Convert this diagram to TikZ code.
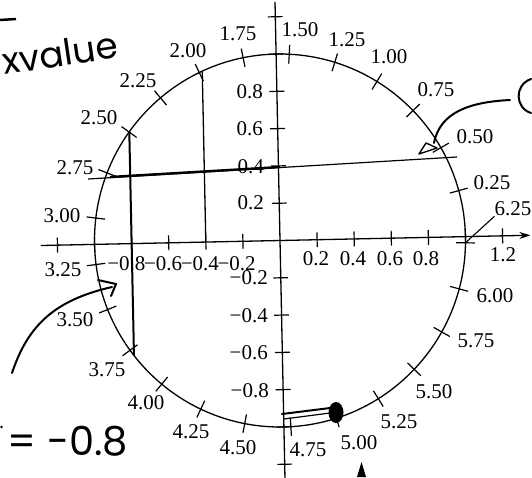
\documentclass[tikz,border=0pt]{standalone}
\usepackage{fontspec}
\setmainfont{Liberation Serif}
\newfontfamily\handfont{Poppins}
\usetikzlibrary{arrows.meta}
\begin{document}
\begin{tikzpicture}[x=1pt,y=-1pt,
  lab/.style={font=\fontsize{21}{21}\selectfont, inner sep=0pt},
  hand/.style={font=\handfont\fontsize{36}{36}\selectfont, inner sep=0pt},
  axline/.style={line width=1.3pt},
  tickline/.style={line width=1.2pt},
  ink/.style={line width=2pt, line cap=round, line join=round}]
\useasboundingbox (0,0) rectangle (532,477);
\fill[white] (0,0) rectangle (532,477);
\begin{scope}[shift={(280,240.5)}, x=185.5pt, y=186.5pt, rotate=1.2]
  \draw[axline] (0,0) circle[x radius=1, y radius=1];
  \coordinate (xl) at (-1.29,0);
  \coordinate (xr) at (1.35,0);
  \coordinate (yt) at (0,1.28);
  \coordinate (yb) at (0,-1.32);
  \draw[axline,-{Stealth[length=11pt,width=7pt]}] (xl) -- (xr);
  \draw[axline] (yt) -- (yb);
  \foreach \t in {-1.2,-1.0,-0.8,-0.6,-0.4,-0.2,0.2,0.4,0.6,0.8,1.0,1.2}{
    \draw[tickline] (\t,-0.04) -- (\t,0.04);
    \draw[tickline] (-0.04,\t) -- (0.04,\t);
  }
  \foreach \k in {1,...,25}
    \draw[tickline] ({\k*14.3239}:0.95) -- ({\k*14.3239}:1.05);
  % vertical projection lines
  \draw[line width=2pt] (-0.8,0.6) -- (-0.8,-0.6);
  \draw[line width=1.3pt] (-0.4,0.9165) -- (-0.4,0);
  \coordinate (t625) at ({25*14.3239}:1.0);
\end{scope}

% circle labels
\foreach \v/\px/\py [count=\i] in {0.25/492/183, 0.50/475/137, 0.75/436/90, 1.00/389/57,
  1.25/347/40, 1.50/300/30, 1.75/238/34, 2.00/188/51, 2.25/138/81, 2.50/99/118,
  2.75/75/168, 3.00/62/216, 3.25/63/270, 3.50/75/320, 3.75/107/370, 4.00/146/403,
  4.25/191/432, 4.50/238/448, 4.75/308/450, 5.00/359/443, 5.25/399/422,
  5.50/434/392, 5.75/476/341, 6.00/495/296}
  \node[lab] (c\i) at (\px,\py) {\v};
\node[lab] (c25) at (513,209) {6.25};
\draw[line width=1.1pt] (t625) -- (c25.south west);

% x axis labels
\foreach \v/\px/\py [count=\i] in {0.2/316/259, 0.4/353/259, 0.6/390/259, 0.8/426/259, 1.2/503/255}
  \node[lab] (xp\i) at (\px,\py) {\v};
\node[lab] (xm8) at (126.4,264) {−0.8};
\node[lab] (xm6) at (163.1,264) {−0.6};
\node[lab] (xm4) at (199.9,264) {−0.4};
\node[lab] (xm2) at (236.6,264) {−0.2};

% y axis labels
\node[lab,anchor=east] (yp8) at (263,92) {0.8};
\node[lab,anchor=east] (yp6) at (263,129) {0.6};
\node[lab,anchor=east] (yp4) at (264,167) {0.4};
\node[lab,anchor=east] (yp2) at (264,203) {0.2};
\node[lab,anchor=east] (ym2) at (268,278) {−0.2};
\node[lab,anchor=east] (ym4) at (268,316) {−0.4};
\node[lab,anchor=east] (ym6) at (268,353) {−0.6};
\node[lab,anchor=east] (ym8) at (269,391) {−0.8};

% near-horizontal line at 0.4
\draw[line width=1.2pt] (88,179) -- (457,157);
\draw[line width=2.4pt] (110,177) -- (280,167);

% blob at 5.00 and hand lines
\fill (336,412.5) ellipse[x radius=7.5pt, y radius=10.5pt];
\draw[ink] (282,414) -- (330,408);
\draw[line width=1.2pt] (284,419) -- (330,413);
\fill (361.5,462) -- (357,477) -- (366,477) -- cycle;

% handwriting
\draw[line width=2.5pt] (0,20) -- (16,19);
\node[hand, rotate=8.5] (xv) at (60,53) {xvalue};
\node[hand, font=\handfont\fontsize{40}{40}\selectfont] (eq) at (68,441) {= -0.8};
\fill (1.5,427) circle[radius=1.3pt];
\draw[ink] (531,79) .. controls (514,85) and (515,108) .. (531,113);
\draw[ink] (510,100) .. controls (470,102) and (440,112) .. (434,143);
\draw[line width=1.4pt, line join=round] (419,154) -- (426,143) -- (437,148) -- cycle;
\draw[ink] (12,373) .. controls (28,325) and (55,300) .. (112,287);
\draw[ink] (98,280) -- (116,284) -- (111,296);
\end{tikzpicture}
\end{document}
